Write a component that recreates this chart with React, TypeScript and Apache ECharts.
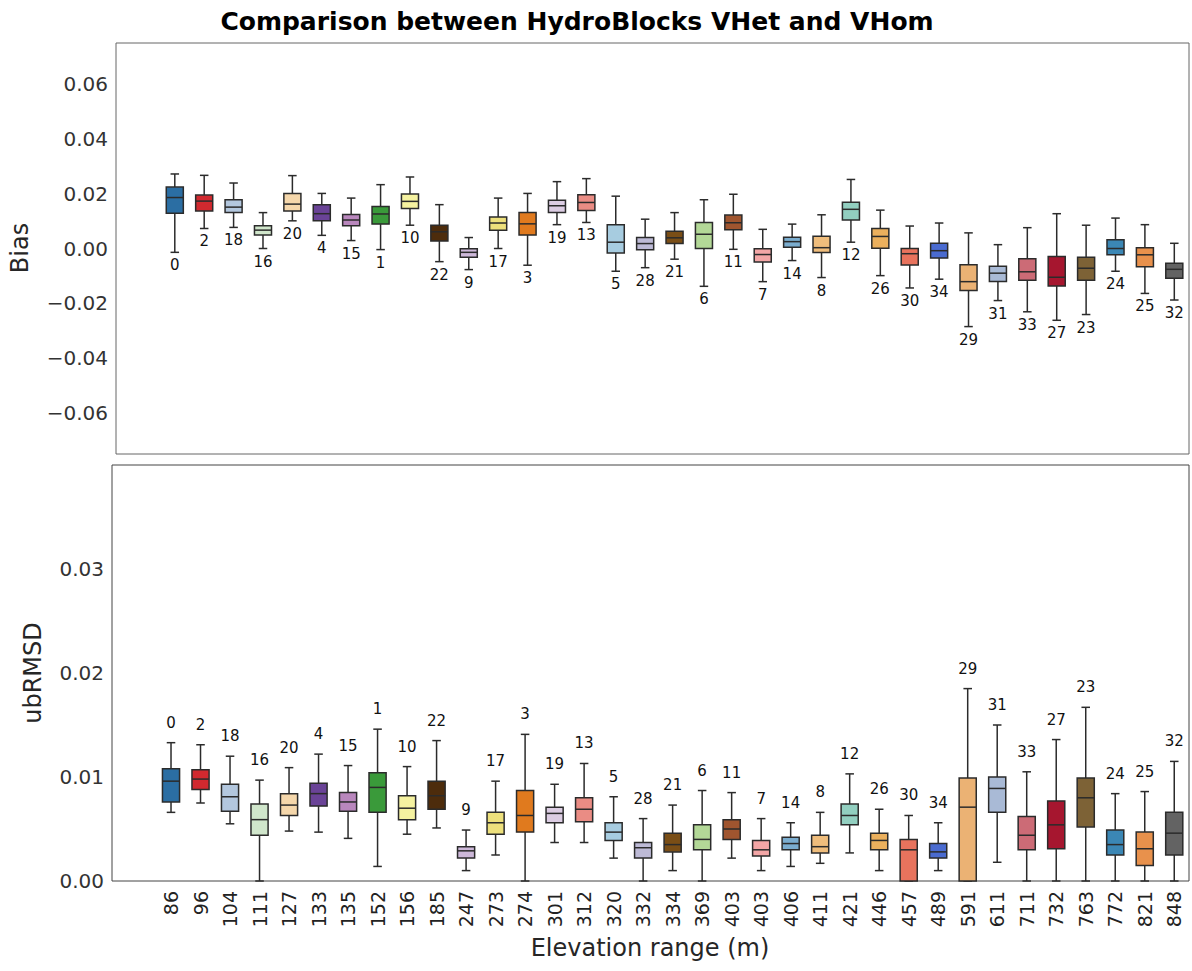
import React, { useEffect, useRef } from 'react';
import * as echarts from 'echarts';

const elevations = ['86', '96', '104', '111', '127', '133', '135', '152', '156', '185', '247', '273', '274', '301', '312', '320', '332', '334', '369', '403', '403', '406', '411', '421', '446', '457', '489', '591', '611', '711', '732', '763', '772', '821', '848'];
const clusterIds = [0, 2, 18, 16, 20, 4, 15, 1, 10, 22, 9, 17, 3, 19, 13, 5, 28, 21, 6, 11, 7, 14, 8, 12, 26, 30, 34, 29, 31, 33, 27, 23, 24, 25, 32];

const boxColors = ['#2b6ea3', '#d1292f', '#b3c7de', '#d0e6cb', '#f5d7ab', '#6a4397', '#b987bd', '#3a9a3a', '#f5f2a0', '#4d2c0c', '#cdb8d9', '#ede07c', '#e07a1e', '#dccde3', '#ea8c84', '#a7cce0', '#bdbad6', '#7a4e16', '#b3d897', '#a0552f', '#f3a6a6', '#7badcf', '#efbd7c', '#92cfc0', '#ebb05d', '#e8735d', '#4a6bd0', '#ebb274', '#a9bad6', '#cc6b76', '#a6162f', '#7d6236', '#3b87b5', '#e8914c', '#636363'];

// Bias statistics (whisker low, Q1, median, Q3, whisker high)
const biasLow = [-0.0014, 0.0073, 0.0077, 0.0, 0.0101, 0.0048, 0.0029, -0.0004, 0.0085, -0.0048, -0.0077, 0.0, -0.0061, 0.0087, 0.0095, -0.0083, -0.007, -0.0039, -0.0138, -0.0003, -0.0121, -0.0044, -0.0106, 0.0023, -0.0099, -0.0144, -0.0112, -0.0285, -0.019, -0.0231, -0.0262, -0.0241, -0.0083, -0.0164, -0.0188];
const biasQ1 = [0.0129, 0.0137, 0.0131, 0.0049, 0.0137, 0.0101, 0.0083, 0.0089, 0.0146, 0.0027, -0.0032, 0.0067, 0.0049, 0.0131, 0.0139, -0.0016, -0.0005, 0.0018, 0.0, 0.0068, -0.0049, 0.0005, -0.0015, 0.0104, 0.0001, -0.006, -0.0035, -0.0153, -0.012, -0.0116, -0.0137, -0.0116, -0.0023, -0.0067, -0.0109];
const biasMedian = [0.0186, 0.0173, 0.0151, 0.0067, 0.0162, 0.0127, 0.0104, 0.0126, 0.0172, 0.0061, -0.0014, 0.0093, 0.009, 0.0156, 0.0168, 0.0023, 0.0018, 0.0039, 0.0052, 0.0094, -0.0022, 0.0025, 0.0003, 0.0143, 0.0044, -0.0019, -0.0008, -0.0121, -0.009, -0.0085, -0.0105, -0.0072, 0.0, -0.0023, -0.0076];
const biasQ3 = [0.0224, 0.0195, 0.0178, 0.0083, 0.0201, 0.016, 0.0124, 0.0153, 0.0199, 0.0085, -0.0001, 0.0115, 0.0131, 0.0176, 0.0196, 0.0087, 0.004, 0.0063, 0.0095, 0.0122, -0.0001, 0.0041, 0.0045, 0.0169, 0.0073, 0.0, 0.0019, -0.0059, -0.0065, -0.0037, -0.0029, -0.0032, 0.0032, 0.0003, -0.0054];
const biasHigh = [0.0272, 0.0267, 0.0239, 0.0131, 0.0266, 0.0201, 0.0184, 0.0233, 0.0261, 0.016, 0.004, 0.0184, 0.0201, 0.0244, 0.0255, 0.0191, 0.0107, 0.0131, 0.0178, 0.0198, 0.007, 0.0089, 0.0123, 0.0252, 0.014, 0.0082, 0.0093, 0.0057, 0.0014, 0.0076, 0.0127, 0.0085, 0.0111, 0.0087, 0.0019];

// ubRMSD statistics (whisker low, Q1, median, Q3, whisker high)
const ubLow = [0.0066, 0.0075, 0.0055, 0.0, 0.0048, 0.0047, 0.0041, 0.0014, 0.0045, 0.0051, 0.001, 0.0025, 0.0, 0.0037, 0.0037, 0.0022, 0.0, 0.001, 0.0, 0.0022, 0.001, 0.0014, 0.0017, 0.0027, 0.001, 0.0, 0.001, 0.0, 0.0018, 0.0, 0.0, 0.0, 0.0, 0.0, 0.0];
const ubQ1 = [0.0076, 0.0088, 0.0067, 0.0044, 0.0063, 0.0072, 0.0067, 0.0066, 0.0059, 0.0069, 0.0022, 0.0045, 0.0047, 0.0056, 0.0057, 0.0039, 0.0022, 0.0028, 0.003, 0.004, 0.0024, 0.003, 0.0027, 0.0054, 0.003, 0.0, 0.0022, 0.0, 0.0066, 0.003, 0.0031, 0.0052, 0.0025, 0.0015, 0.0025];
const ubMedian = [0.0096, 0.0098, 0.0081, 0.0059, 0.0073, 0.0084, 0.0076, 0.009, 0.007, 0.0082, 0.0029, 0.0056, 0.0063, 0.0065, 0.0069, 0.0047, 0.0032, 0.0035, 0.004, 0.005, 0.003, 0.0036, 0.0033, 0.0063, 0.0039, 0.003, 0.0028, 0.0071, 0.0089, 0.0044, 0.0054, 0.008, 0.0035, 0.0031, 0.0046];
const ubQ3 = [0.0108, 0.0107, 0.0093, 0.0074, 0.0084, 0.0094, 0.0085, 0.0104, 0.0082, 0.0096, 0.0033, 0.0066, 0.0087, 0.0071, 0.008, 0.0056, 0.0037, 0.0046, 0.0054, 0.0059, 0.0039, 0.0042, 0.0044, 0.0074, 0.0046, 0.004, 0.0036, 0.0099, 0.01, 0.0062, 0.0077, 0.0099, 0.0049, 0.0047, 0.0066];
const ubHigh = [0.0133, 0.0131, 0.012, 0.0097, 0.0109, 0.0122, 0.0111, 0.0146, 0.011, 0.0135, 0.0049, 0.0096, 0.0141, 0.0093, 0.0113, 0.0081, 0.006, 0.0073, 0.0087, 0.0085, 0.006, 0.0056, 0.0066, 0.0103, 0.0069, 0.0063, 0.0056, 0.0185, 0.015, 0.0105, 0.0136, 0.0167, 0.0084, 0.0086, 0.0115];

const FONT = 'DejaVu Sans';

function buildItems(low: number[], q1: number[], med: number[], q3: number[], high: number[]) {
  return low.map((v, i) => [i, v, q1[i], med[i], q3[i], high[i]]);
}

function makeRender(labelAbove: boolean) {
  return (params: any, api: any) => {
    const i = api.value(0);
    const x = api.coord([i, 0])[0];
    const yLow = api.coord([i, api.value(1)])[1];
    const yQ1 = api.coord([i, api.value(2)])[1];
    const yMed = api.coord([i, api.value(3)])[1];
    const yQ3 = api.coord([i, api.value(4)])[1];
    const yHigh = api.coord([i, api.value(5)])[1];
    const band = api.size([1, 0])[0];
    const hw = band * 0.29;
    const cw = hw * 0.5;
    const stroke = '#2b2b2b';
    const lw = 1.5;
    const ls = { stroke, lineWidth: lw };
    return {
      type: 'group',
      children: [
        { type: 'line', shape: { x1: x, y1: yLow, x2: x, y2: yQ1 }, style: ls },
        { type: 'line', shape: { x1: x, y1: yQ3, x2: x, y2: yHigh }, style: ls },
        { type: 'line', shape: { x1: x - cw, y1: yLow, x2: x + cw, y2: yLow }, style: ls },
        { type: 'line', shape: { x1: x - cw, y1: yHigh, x2: x + cw, y2: yHigh }, style: ls },
        {
          type: 'rect',
          shape: { x: x - hw, y: yQ3, width: hw * 2, height: yQ1 - yQ3 },
          style: { fill: boxColors[params.dataIndex], stroke, lineWidth: lw },
        },
        { type: 'line', shape: { x1: x - hw, y1: yMed, x2: x + hw, y2: yMed }, style: ls },
        {
          type: 'text',
          x,
          y: labelAbove ? yHigh - 20 : yLow + 13,
          style: {
            text: String(clusterIds[params.dataIndex]),
            fill: '#111',
            fontSize: 15,
            fontFamily: FONT,
            align: 'center',
            verticalAlign: 'middle',
          },
        },
      ],
    };
  };
}

function fmtTick(v: number, step: number, maxShown: number) {
  const r = Math.round(v / step) * step;
  if (Math.abs(v - r) > 1e-9) return '';
  if (r > maxShown + 1e-9) return '';
  if (Math.abs(r) < 1e-9) return '0.00';
  return (r < 0 ? '\u2212' : '') + Math.abs(r).toFixed(2);
}

export default function App() {
  const ref = useRef<HTMLDivElement>(null);
  useEffect(() => {
    if (!ref.current) return;
    const chart = echarts.init(ref.current, null, { renderer: 'svg' });
    const hiddenAxis = {
      axisLine: { show: false },
      axisTick: { show: false },
      splitLine: { show: false },
    };
    chart.setOption({
      animation: false,
      backgroundColor: '#ffffff',
      textStyle: { fontFamily: FONT },
      grid: [
        { left: 116, top: 43, width: 1073, height: 411, show: true, borderColor: '#666', borderWidth: 1, backgroundColor: 'transparent' },
        { left: 112, top: 465, width: 1077, height: 416, show: true, borderColor: '#444', borderWidth: 1, backgroundColor: 'transparent' },
      ],
      xAxis: [
        { gridIndex: 0, type: 'value', min: -2, max: 34.5, interval: 1, ...hiddenAxis, axisLabel: { show: false } },
        {
          gridIndex: 1,
          type: 'value',
          min: -2,
          max: 34.5,
          interval: 1,
          ...hiddenAxis,
          axisLabel: {
            rotate: 90,
            margin: 10,
            fontSize: 19,
            color: '#222',
            fontFamily: FONT,
            showMinLabel: true,
            showMaxLabel: true,
            formatter: (v: number) => {
              const idx = Math.round(v);
              if (Math.abs(v - idx) > 1e-9 || idx < 0 || idx >= elevations.length) return '';
              return elevations[idx];
            },
          },
        },
      ],
      yAxis: [
        {
          gridIndex: 0,
          type: 'value',
          min: -0.075,
          max: 0.075,
          minInterval: 0.02,
          maxInterval: 0.02,
          ...hiddenAxis,
          axisLabel: {
            fontSize: 20,
            color: '#333',
            margin: 8,
            fontFamily: FONT,
            formatter: (v: number) => fmtTick(v, 0.02, 0.07),
          },
        },
        {
          gridIndex: 1,
          type: 'value',
          min: 0,
          max: 0.04,
          interval: 0.01,
          ...hiddenAxis,
          axisLabel: {
            fontSize: 20,
            color: '#333',
            margin: 8,
            fontFamily: FONT,
            formatter: (v: number) => fmtTick(v, 0.01, 0.035),
          },
        },
      ],
      graphic: [
        {
          type: 'text',
          x: 577,
          y: 21,
          style: {
            text: 'Comparison between HydroBlocks VHet and VHom',
            fontSize: 25,
            fontWeight: 'bold',
            fontFamily: FONT,
            fill: '#000',
            align: 'center',
            verticalAlign: 'middle',
          },
        },
        {
          type: 'text',
          x: 20,
          y: 248,
          rotation: Math.PI / 2,
          style: { text: 'Bias', fontSize: 24, fontFamily: FONT, fill: '#262626', align: 'center', verticalAlign: 'middle' },
        },
        {
          type: 'text',
          x: 33,
          y: 673,
          rotation: Math.PI / 2,
          style: { text: 'ubRMSD', fontSize: 24, fontFamily: FONT, fill: '#262626', align: 'center', verticalAlign: 'middle' },
        },
        {
          type: 'text',
          x: 650,
          y: 948,
          style: { text: 'Elevation range (m)', fontSize: 24, fontFamily: FONT, fill: '#262626', align: 'center', verticalAlign: 'middle' },
        },
      ],
      series: [
        {
          type: 'custom',
          xAxisIndex: 0,
          yAxisIndex: 0,
          renderItem: makeRender(false),
          encode: { x: 0, y: [1, 2, 3, 4, 5] },
          data: buildItems(biasLow, biasQ1, biasMedian, biasQ3, biasHigh),
          clip: false,
        },
        {
          type: 'custom',
          xAxisIndex: 1,
          yAxisIndex: 1,
          renderItem: makeRender(true),
          encode: { x: 0, y: [1, 2, 3, 4, 5] },
          data: buildItems(ubLow, ubQ1, ubMedian, ubQ3, ubHigh),
          clip: false,
        },
      ],
    });
    return () => chart.dispose();
  }, []);
  return <div ref={ref} style={{ position: 'absolute', left: 0, top: 0, width: 1192, height: 971 }} />;
}
